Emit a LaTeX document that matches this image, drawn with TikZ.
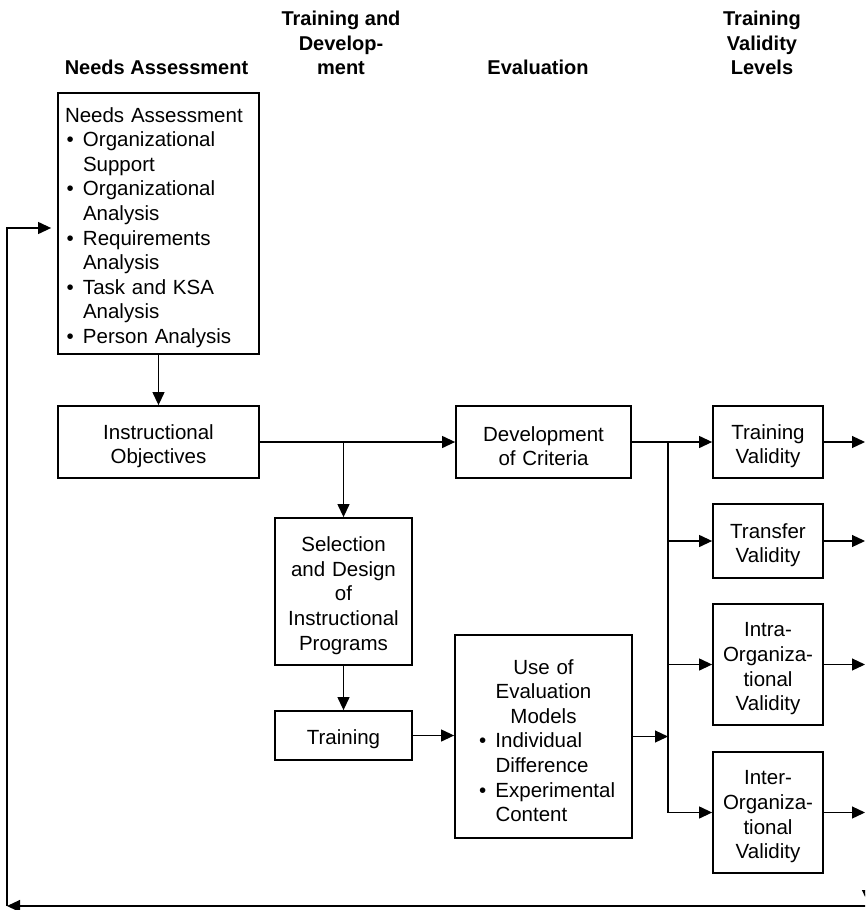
\documentclass[tikz,border=0pt]{standalone}
\usepackage{fontspec}
\setmainfont{Liberation Sans}
\usetikzlibrary{arrows.meta}
% bullet with a fixed hanging indent, and the matching blank indent
\newcommand\bitem{\makebox[18pt][l]{\hspace*{1.5pt}\textbullet}}
\newcommand\bpad{\makebox[18pt]{}}
\begin{document}
\begin{tikzpicture}[x=1pt,y=-1pt,
  box/.style={draw, line width=1.8pt, align=center, inner sep=0pt,
    font=\fontsize{20.5}{24.6}\selectfont,
    execute at begin node={\rule{0pt}{23pt}}},
  head/.style={align=center, inner sep=0pt, anchor=south,
    font=\fontsize{20}{24.5}\selectfont\bfseries},
  wire/.style={line width=1.2pt},
  conn/.style={wire, -{Triangle[length=13pt,width=12pt]}},
]
\useasboundingbox (0,0) rectangle (865,910);
\clip (0,0) rectangle (865,910);

% column headings
\node[head] (h1) at (156.5,75) {Needs Assessment};
\node[head] (h2) at (341,75) {Training and\\Develop-\\ment};
\node[head] (h3) at (538,75) {Evaluation};
\node[head] (h4) at (762,75) {Training\\Validity\\Levels};

% boxes
\node[box, minimum width=201pt, minimum height=261pt, text width=187pt, align=left]
  (na) at (158.5,223.5) {Needs Assessment\\
  \bitem Organizational\\ \bpad Support\\
  \bitem Organizational\\ \bpad Analysis\\
  \bitem Requirements\\ \bpad Analysis\\
  \bitem Task and KSA\\ \bpad Analysis\\
  \bitem Person Analysis};
\node[box, minimum width=201pt, text width=195pt, minimum height=72pt] (io) at (158.5,442)
  {Instructional\\Objectives};
\node[box, minimum width=175pt, text width=169pt, minimum height=72pt] (dc) at (543.5,442)
  {Development\\of Criteria};
\node[box, minimum width=137pt, text width=131pt, minimum height=147pt] (sel) at (343.5,591.5)
  {Selection\\and Design\\of\\Instructional\\Programs};
\node[box, minimum width=137pt, text width=131pt, minimum height=49pt] (trn) at (343.5,735.5)
  {Training};
\node[box, minimum width=177pt, text width=171pt, minimum height=203pt] (use) at (543.5,736.5)
  {Use of\\Evaluation\\Models\\
   \makebox[132pt][l]{\bitem Individual}\\
   \makebox[132pt][l]{\bpad Difference}\\
   \makebox[132pt][l]{\bitem Experimental}\\
   \makebox[132pt][l]{\bpad Content}};
\node[box, minimum width=110pt, text width=106pt, minimum height=72pt] (tv) at (768,442)
  {Training\\Validity};
\node[box, minimum width=110pt, text width=106pt, minimum height=74pt] (tr) at (768,541)
  {Transfer\\Validity};
\node[box, minimum width=110pt, text width=106pt, minimum height=121pt] (intra) at (768,664.5)
  {Intra-\\Organiza-\\tional\\Validity};
\node[box, minimum width=110pt, text width=106pt, minimum height=121pt] (inter) at (768,812.5)
  {Inter-\\Organiza-\\tional\\Validity};

% junction points and free ends
\coordinate (j1) at (343.5,442);
\coordinate (bus) at (668,442);
\coordinate (redge) at (865,0);
\coordinate (fbR) at (866,906);
\coordinate (fbL) at (7,906);
\coordinate (fbU) at (7,228);
\coordinate (offA) at (868,880);
\coordinate (offB) at (868,903);

% left column flow
\draw[conn] (na) -- (io);
\draw[conn] (io) -- (dc);
\draw[conn] (j1) -- (sel);
\draw[conn] (sel) -- (trn);
\draw[conn] (trn.east) -- (trn.east -| use.west);

% distribution to the validity levels
\draw[conn] (dc) -- (tv);
\draw[wire] (bus) -- (bus |- inter.west);
\draw[conn] (use.east) -- (use.east -| bus);
\draw[conn] (bus |- tr.west) -- (tr.west);
\draw[conn] (bus |- intra.west) -- (intra.west);
\draw[conn] (bus |- inter.west) -- (inter.west);

% outputs on the right
\draw[conn] (tv.east) -- (tv.east -| redge);
\draw[conn] (tr.east) -- (tr.east -| redge);
\draw[conn] (intra.east) -- (intra.east -| redge);
\draw[conn] (inter.east) -- (inter.east -| redge);

% feedback loop back to the needs assessment
\draw[conn] (offA) -- (offB);
\draw[conn] (fbR) -- (fbL);
\draw[conn] (fbL) -- (fbU) -- ([xshift=-6pt]fbU -| na.west);
\end{tikzpicture}
\end{document}
